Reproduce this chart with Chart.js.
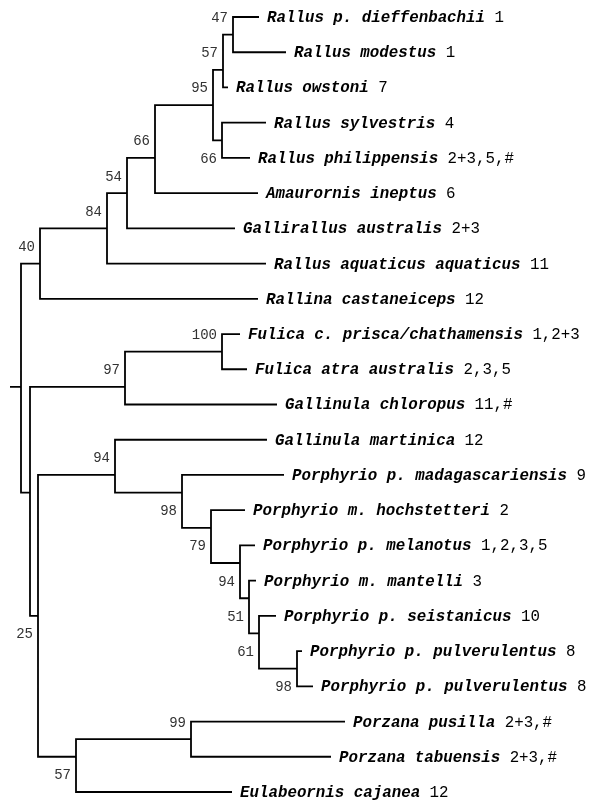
<!DOCTYPE html>
<html>
<head>
<meta charset="utf-8">
<script src="https://cdn.jsdelivr.net/npm/chart.js@4.4.1/dist/chart.umd.min.js"></script>
<style>
  html, body { margin: 0; padding: 0; background: #fff; }
  #wrap { width: 595px; height: 802px; }
</style>
</head>
<body>
<div id="wrap"><canvas id="tree" width="595" height="802"></canvas></div>
<script>
// leaves, top to bottom (row = index)
var taxa = [
  'Rallus p. dieffenbachii', 'Rallus modestus', 'Rallus owstoni', 'Rallus sylvestris',
  'Rallus philippensis', 'Amaurornis ineptus', 'Gallirallus australis',
  'Rallus aquaticus aquaticus', 'Rallina castaneiceps', 'Fulica c. prisca/chathamensis',
  'Fulica atra australis', 'Gallinula chloropus', 'Gallinula martinica',
  'Porphyrio p. madagascariensis', 'Porphyrio m. hochstetteri', 'Porphyrio p. melanotus',
  'Porphyrio m. mantelli', 'Porphyrio p. seistanicus', 'Porphyrio p. pulverulentus',
  'Porphyrio p. pulverulentus', 'Porzana pusilla', 'Porzana tabuensis', 'Eulabeornis cajanea'
];
var codes = [
  '1', '1', '7', '4', '2+3,5,#', '6', '2+3', '11', '12', '1,2+3', '2,3,5', '11,#', '12',
  '9', '2', '1,2,3,5', '3', '10', '8', '8', '2+3,#', '2+3,#', '12'
];
// distance of each tip from the root
var tipDepth = [238, 265, 207, 245, 229, 237, 214, 245, 237, 219, 226, 256, 246,
                263, 224, 234, 235, 255, 281, 292, 324, 310, 211];

// internal nodes: children (leaf index or 'nK'), depth, row of the joining branch
var nodeKids = [
  [0, 1], ['n0', 2], [3, 4], ['n1', 'n2'], ['n3', 5], ['n4', 6], ['n5', 7], ['n6', 8],
  [9, 10], ['n8', 11],
  [18, 19], [17, 'n10'], [16, 'n11'], [15, 'n12'], [14, 'n13'], [13, 'n14'], [12, 'n15'],
  [20, 21], ['n17', 22], ['n16', 'n18'], ['n9', 'n19'], ['n7', 'n20']
];
var nodeDepth = [212, 202, 201, 192, 134, 106, 86, 19, 201, 104,
                 276, 238, 228, 219, 190, 161, 94, 170, 55, 17, 9, 0];
var nodeRow = [0.5, 1.5, 3.5, 2.5, 4, 5, 6, 7, 9.5, 10.5,
               18.5, 17.5, 16.5, 15.5, 14.5, 13.5, 13, 20.5, 21, 17, 13.5, 10.5];
// bootstrap support and the row it is written at
var support = [47, 57, 66, 95, 66, 54, 84, 40, 100, 97,
               98, 61, 51, 94, 79, 98, 94, 99, 57, 25, null, null];
var supportRow = [0, 1, 4, 2, 3.5, 4.5, 5.5, 6.5, 9, 10,
                  19, 18, 17, 16, 15, 14, 12.5, 20, 21.5, 17.5, null, null];
var rootStub = -11;

function kidRow(k) { return typeof k === 'number' ? k : nodeRow[+k.slice(1)]; }
function kidDepth(k) { return typeof k === 'number' ? tipDepth[k] : nodeDepth[+k.slice(1)]; }

var segs = [];
nodeKids.forEach(function (kids, i) {
  var a = kids[0], b = kids[kids.length - 1];
  segs.push({x: kidDepth(a), y: kidRow(a)}, {x: nodeDepth[i], y: kidRow(a)},
            {x: nodeDepth[i], y: kidRow(b)}, {x: kidDepth(b), y: kidRow(b)},
            {x: null, y: null});
});
segs.push({x: rootStub, y: 10.5}, {x: 0, y: 10.5});

var nameFont = 'bold italic 15.8px "Liberation Mono", "Courier New", monospace';
var codeFont = '15.8px "Liberation Mono", "Courier New", monospace';
var supFont = '14px "Liberation Mono", "Courier New", monospace';

var treeText = {
  id: 'treeText',
  afterDatasetsDraw: function (chart) {
    var ctx = chart.ctx, x = chart.scales.x, y = chart.scales.y;
    ctx.save();
    ctx.textBaseline = 'alphabetic';
    ctx.textAlign = 'left';
    ctx.fillStyle = '#000';
    taxa.forEach(function (name, i) {
      var px = x.getPixelForValue(tipDepth[i]) + 8;
      var py = y.getPixelForValue(i) + 5;
      ctx.font = nameFont;
      ctx.fillText(name, px, py);
      px += ctx.measureText(name + ' ').width;
      ctx.font = codeFont;
      ctx.fillText(codes[i], px, py);
    });
    ctx.font = supFont;
    ctx.textAlign = 'right';
    ctx.fillStyle = '#333';
    support.forEach(function (s, i) {
      if (s === null) return;
      ctx.fillText(String(s), x.getPixelForValue(nodeDepth[i]) - 5, y.getPixelForValue(supportRow[i]) + 5);
    });
    ctx.restore();
  }
};

new Chart(document.getElementById('tree').getContext('2d'), {
  type: 'scatter',
  data: {
    datasets: [{
      data: segs,
      showLine: true,
      spanGaps: false,
      borderColor: '#000',
      borderWidth: 1.8,
      borderJoinStyle: 'miter',
      borderCapStyle: 'butt',
      pointRadius: 0,
      tension: 0
    }]
  },
  options: {
    responsive: false,
    animation: false,
    devicePixelRatio: 1,
    layout: { padding: 0 },
    plugins: { legend: { display: false }, tooltip: { enabled: false } },
    scales: {
      x: { type: 'linear', min: -21, max: 574, display: false },
      y: { type: 'linear', min: -0.4826, max: 22.284, reverse: true, display: false }
    }
  },
  plugins: [treeText]
});
</script>
</body>
</html>
